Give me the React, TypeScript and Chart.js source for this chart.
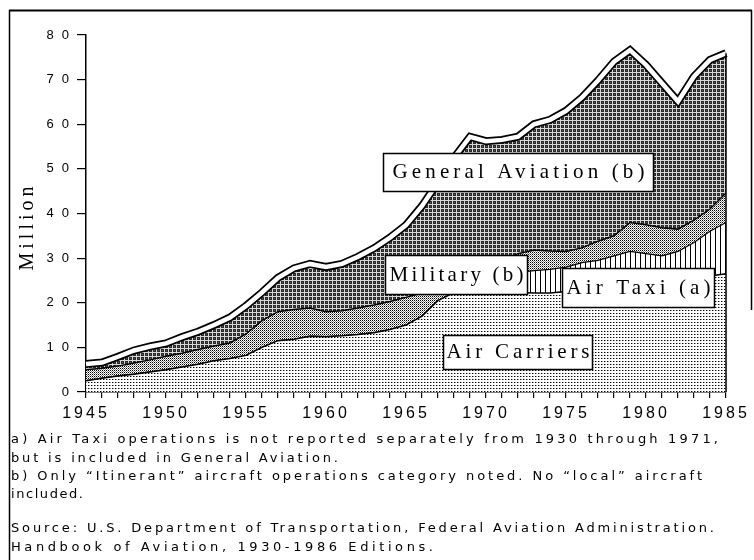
import { useEffect, useRef } from 'react';
import { Chart, registerables } from 'chart.js';

Chart.register(...registerables);

// Itinerant aircraft operations at FAA towered airports, millions per year
const YEARS = [
  1945, 1946, 1947, 1948, 1949, 1950, 1951, 1952, 1953, 1954,
  1955, 1956, 1957, 1958, 1959, 1960, 1961, 1962, 1963, 1964,
  1965, 1966, 1967, 1968, 1969, 1970, 1971, 1972, 1973, 1974,
  1975, 1976, 1977, 1978, 1979, 1980, 1981, 1982, 1983, 1984, 1985,
];
const LABELED_YEARS = [1945, 1950, 1955, 1960, 1965, 1970, 1975, 1980, 1985];

const AIR_CARRIERS = [
  2.5, 3.1, 3.6, 4.0, 4.5, 5.0, 5.6, 6.2, 7.0, 7.5,
  8.2, 10.0, 11.5, 11.8, 12.5, 12.4, 12.6, 12.9, 13.3, 14.0,
  15.0, 17.0, 20.5, 22.3, 22.8, 23.0, 22.6, 22.3, 22.2, 22.2,
  22.5, 23.0, 23.5, 24.0, 25.0, 25.0, 24.0, 24.0, 24.8, 26.0, 26.5,
];
// not reported separately before 1972
const AIR_TAXI = [
  0, 0, 0, 0, 0, 0, 0, 0, 0, 0,
  0, 0, 0, 0, 0, 0, 0, 0, 0, 0,
  0, 0, 0, 0, 0, 0, 0, 4.5, 5.0, 5.3,
  5.5, 6.0, 6.0, 6.5, 6.5, 6.0, 6.5, 7.5, 8.7, 10.0, 11.5,
];
const MILITARY = [
  2.5, 2.2, 2.2, 2.5, 2.7, 3.0, 3.1, 3.3, 3.3, 3.5,
  4.8, 6.0, 6.5, 6.7, 6.3, 5.6, 5.6, 5.9, 6.2, 6.3,
  6.2, 5.2, 2.5, 2.7, 4.2, 5.5, 6.9, 4.2, 4.6, 4.1,
  3.5, 3.3, 4.3, 4.5, 6.5, 6.5, 6.3, 5.0, 5.0, 5.0, 6.6,
];
const GENERAL_AVIATION = [
  1.3, 1.3, 2.1, 2.8, 3.0, 2.9, 3.6, 4.0, 4.7, 5.7,
  6.3, 6.3, 7.6, 9.2, 9.9, 10.0, 10.5, 11.5, 12.7, 14.3,
  16.2, 19.5, 24.0, 27.5, 30.2, 27.7, 27.0, 26.2, 28.2, 29.4,
  31.5, 33.7, 36.0, 39.0, 38.6, 35.8, 32.4, 28.6, 32.2, 33.4, 31.3,
];

const Y_MIN = 0;
const Y_MAX = 80;
const Y_STEP = 10;

const TOTAL = YEARS.map(
  (_, i) => AIR_CARRIERS[i] + AIR_TAXI[i] + MILITARY[i] + GENERAL_AVIATION[i]
);

// boxed area captions, anchored in data units (year, millions)
const AREA_LABELS = [
  { text: 'General Aviation (b)', year: 1972.0, value: 49.4, w: 270, h: 38, pad: 9 },
  { text: 'Military (b)', year: 1968.1, value: 26.3, w: 142, h: 39, pad: 4 },
  { text: 'Air Taxi (a)', year: 1979.5, value: 23.4, w: 152, h: 39, pad: 4 },
  { text: 'Air Carriers', year: 1971.95, value: 9.0, w: 149, h: 34, pad: 3 },
];

const FOOTNOTES = [
  'a) Air Taxi operations is not reported separately from 1930 through 1971,',
  'but is included in General Aviation.',
  'b) Only \u201cItinerant\u201d aircraft operations category noted. No \u201clocal\u201d aircraft',
  'included.',
  'Source: U.S. Department of Transportation, Federal Aviation Administration.',
  'Handbook of Aviation, 1930-1986 Editions.',
];
const FOOTNOTE_Y = [440, 459, 477, 495, 529, 548];
const FOOTNOTE_RIGHT = [718, 338, 702, 83, 714, 433];

function makePattern(
  ctx: CanvasRenderingContext2D,
  w: number,
  h: number,
  paint: (g: CanvasRenderingContext2D) => void
) {
  const c = document.createElement('canvas');
  c.width = w;
  c.height = h;
  const g = c.getContext('2d') as CanvasRenderingContext2D;
  paint(g);
  return ctx.createPattern(c, 'repeat') as CanvasPattern;
}

// runs a scale's drawing step with its own letter spacing (and optional vertical nudge)
function wrapSpacing(chart: any, scale: any, method: string, spacing: string, dy = 0) {
  const orig = scale[method];
  scale[method] = function (...args: any[]) {
    const ctx = chart.ctx;
    ctx.save();
    ctx.letterSpacing = spacing;
    if (dy) ctx.translate(0, dy);
    try {
      return orig.apply(this, args);
    } finally {
      ctx.restore();
    }
  };
}

// draws text from x0 so that its last glyph ends near x1
function spreadText(ctx: CanvasRenderingContext2D, text: string, x0: number, x1: number, y: number) {
  ctx.letterSpacing = '0px';
  const w0 = ctx.measureText(text).width;
  const sp = Math.max(0, (x1 - x0 - w0) / Math.max(1, text.length - 1));
  ctx.letterSpacing = `${sp}px`;
  ctx.fillText(text, x0, y);
  ctx.letterSpacing = '0px';
}

const decorPlugin = {
  id: 'decor',
  beforeDraw(chart: any) {
    const xs = chart.scales.x;
    const ys = chart.scales.y;
    if (xs && !xs.__spaced) {
      wrapSpacing(chart, xs, 'drawLabels', '3px');
      xs.__spaced = true;
    }
    if (ys && !ys.__spaced) {
      wrapSpacing(chart, ys, 'drawLabels', '8px');
      wrapSpacing(chart, ys, 'drawTitle', '4px', 13);
      ys.__spaced = true;
    }
  },
  afterDraw(chart: any) {
    const { ctx, scales } = chart;
    const xs = scales.x;
    const ys = scales.y;
    const last = YEARS.length - 1;
    ctx.save();

    // right edge of the stacked areas
    const xr = xs.getPixelForValue(last);
    ctx.strokeStyle = '#000';
    ctx.lineWidth = 1.5;
    ctx.beginPath();
    ctx.moveTo(xr, ys.getPixelForValue(TOTAL[last]));
    ctx.lineTo(xr, ys.getPixelForValue(0));
    ctx.stroke();

    // area captions
    ctx.font = '21px "Liberation Serif", "Times New Roman", serif';
    ctx.textBaseline = 'middle';
    ctx.textAlign = 'left';
    for (const lab of AREA_LABELS) {
      const cx = xs.getPixelForValue(lab.year - YEARS[0]);
      const cy = ys.getPixelForValue(lab.value);
      const left = Math.round(cx - lab.w / 2) + 0.5;
      const top = Math.round(cy - lab.h / 2) + 0.5;
      ctx.fillStyle = '#fff';
      ctx.fillRect(left, top, lab.w, lab.h);
      ctx.strokeStyle = '#000';
      ctx.lineWidth = 1.5;
      ctx.strokeRect(left, top, lab.w, lab.h);
      ctx.fillStyle = '#000';
      spreadText(ctx, lab.text, left + lab.pad, left + lab.w - lab.pad, cy + 1);
    }

    // footnotes
    ctx.font = '13px "DejaVu Sans", Verdana, sans-serif';
    ctx.fillStyle = '#000';
    FOOTNOTES.forEach((line, i) => spreadText(ctx, line, 11, FOOTNOTE_RIGHT[i], FOOTNOTE_Y[i]));

    // frame
    ctx.strokeStyle = '#000';
    ctx.lineWidth = 2;
    ctx.beginPath();
    ctx.moveTo(9, 10.5);
    ctx.lineTo(752, 10.5);
    ctx.stroke();
    ctx.lineWidth = 1.5;
    ctx.beginPath();
    ctx.moveTo(9.5, 10);
    ctx.lineTo(9.5, 560);
    ctx.moveTo(751.5, 10);
    ctx.lineTo(751.5, 310);
    ctx.stroke();

    ctx.restore();
  },
};

export default function App() {
  const canvasRef = useRef<HTMLCanvasElement | null>(null);

  useEffect(() => {
    const canvas = canvasRef.current;
    if (!canvas) return;
    const ctx = canvas.getContext('2d') as CanvasRenderingContext2D;

    const dots = makePattern(ctx, 3, 3, (g) => {
      g.fillStyle = '#fff';
      g.fillRect(0, 0, 3, 3);
      g.fillStyle = '#000';
      g.fillRect(1, 1, 1, 1);
      g.fillStyle = '#999';
      g.fillRect(2, 1, 1, 1);
    });
    const stipple = makePattern(ctx, 2, 2, (g) => {
      g.fillStyle = '#fff';
      g.fillRect(0, 0, 2, 2);
      g.fillStyle = '#000';
      g.fillRect(0, 0, 1, 1);
      g.fillStyle = '#888';
      g.fillRect(1, 1, 1, 1);
    });
    const stripes = makePattern(ctx, 5, 1, (g) => {
      g.fillStyle = '#fff';
      g.fillRect(0, 0, 5, 1);
      g.fillStyle = '#000';
      g.fillRect(0, 0, 1, 1);
    });
    const hatch = makePattern(ctx, 4, 4, (g) => {
      g.fillStyle = '#2a2a2a';
      g.fillRect(0, 0, 4, 4);
      g.fillStyle = '#d8d8d8';
      g.fillRect(0, 0, 4, 1);
      g.fillRect(0, 0, 1, 4);
      g.fillStyle = '#555';
      g.fillRect(2, 2, 1, 1);
    });

    const common = { pointRadius: 0, tension: 0, stack: 'main', order: 0 };

    const chart = new Chart(canvas, {
      type: 'line',
      data: {
        labels: YEARS.map(String),
        datasets: [
          {
            ...common,
            label: 'Air Carriers',
            data: AIR_CARRIERS,
            backgroundColor: dots,
            borderColor: '#000',
            borderWidth: 1.5,
            fill: 'origin',
          },
          {
            ...common,
            label: 'Air Taxi (a)',
            data: AIR_TAXI,
            backgroundColor: stripes,
            borderColor: '#000',
            borderWidth: 1.2,
            fill: '-1',
          },
          {
            ...common,
            label: 'Military (b)',
            data: MILITARY,
            backgroundColor: stipple,
            borderColor: '#000',
            borderWidth: 1.5,
            fill: '-1',
          },
          {
            ...common,
            label: 'General Aviation (b)',
            data: GENERAL_AVIATION,
            backgroundColor: hatch,
            borderColor: 'rgba(0,0,0,0)',
            borderWidth: 0,
            fill: '-1',
          },
          {
            label: 'Total outline',
            data: TOTAL,
            stack: 'outline-dark',
            order: -1,
            pointRadius: 0,
            tension: 0,
            borderColor: '#000',
            borderWidth: 8,
            fill: false,
          },
          {
            label: 'Total outline light',
            data: TOTAL,
            stack: 'outline-light',
            order: -2,
            pointRadius: 0,
            tension: 0,
            borderColor: '#fff',
            borderWidth: 4.5,
            fill: false,
          },
        ],
      } as any,
      options: {
        responsive: false,
        animation: false,
        devicePixelRatio: 1,
        layout: { padding: { left: 0, top: 35, right: 28, bottom: 128 } },
        plugins: {
          legend: { display: false },
          tooltip: { enabled: false },
        },
        scales: {
          x: {
            type: 'category',
            offset: false,
            grid: {
              display: true,
              drawOnChartArea: false,
              drawTicks: true,
              tickLength: 6,
              color: '#000',
              lineWidth: 1.2,
            },
            border: { display: true, color: '#000', width: 1.5 },
            ticks: {
              autoSkip: false,
              maxRotation: 0,
              minRotation: 0,
              padding: 6,
              color: '#000',
              font: { family: '"Liberation Sans", Arial, sans-serif', size: 16 },
              callback: (_v: any, i: number) =>
                LABELED_YEARS.includes(YEARS[i]) ? String(YEARS[i]) : '',
            },
            afterFit: (s: any) => {
              s.height = 40;
            },
          },
          y: {
            stacked: true,
            min: Y_MIN,
            max: Y_MAX,
            grid: {
              display: true,
              drawOnChartArea: false,
              drawTicks: true,
              tickLength: 9,
              color: '#000',
              lineWidth: 1.2,
            },
            border: { display: true, color: '#000', width: 1.5 },
            ticks: {
              stepSize: Y_STEP,
              padding: 0,
              color: '#000',
              font: { family: '"Liberation Sans", Arial, sans-serif', size: 13 },
            },
            title: {
              display: true,
              text: 'Million',
              color: '#000',
              font: { family: '"Liberation Serif", "Times New Roman", serif', size: 20 },
              padding: { top: 16, bottom: 0 },
            },
            afterFit: (s: any) => {
              s.width = 86;
            },
          },
        },
      } as any,
      plugins: [decorPlugin as any],
    });

    return () => chart.destroy();
  }, []);

  return (
    <div style={{ position: 'absolute', left: 0, top: 0, width: 754, height: 560, background: '#fff' }}>
      <canvas ref={canvasRef} width={754} height={560} style={{ display: 'block', width: 754, height: 560 }} />
    </div>
  );
}
